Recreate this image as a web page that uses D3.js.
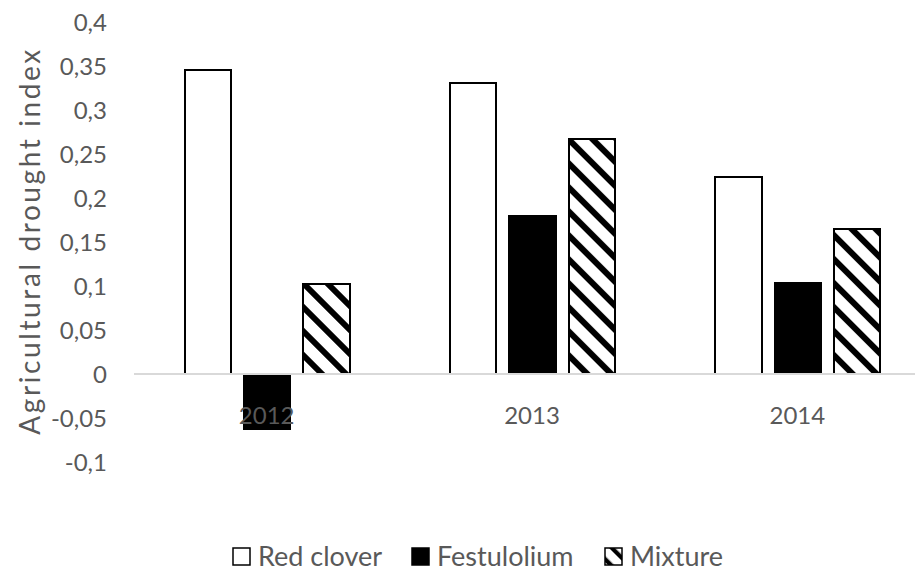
<!DOCTYPE html>
<html>
<head>
<meta charset="utf-8">
<script src="https://cdn.jsdelivr.net/npm/d3@7"></script>
<style>
  html, body { margin: 0; padding: 0; background: #fff; }
  svg { display: block; }
  text { font-family: Lato, "Open Sans", sans-serif; fill: #595959; }
</style>
</head>
<body>
<svg id="chart" width="915" height="572"></svg>
<script>
// Agricultural drought index by year and sward type
const years = ["2012", "2013", "2014"];
const seriesNames = ["Red clover", "Festulolium", "Mixture"];
const redClover = [0.346, 0.331, 0.224];
const festulolium = [-0.062, 0.179, 0.103];
const mixture = [0.1025, 0.2665, 0.1645];
const yTicks = [-0.1, -0.05, 0, 0.05, 0.1, 0.15, 0.2, 0.25, 0.3, 0.35, 0.4];

const seriesValues = [redClover, festulolium, mixture];

const svg = d3.select("#chart");
const W = 915, H = 572;
const margin = { left: 134, right: -15, top: 22, bottom: 110 };

// diagonal hatch for the mixture series
const defs = svg.append("defs");
const pat = defs.append("pattern")
  .attr("id", "hatch")
  .attr("patternUnits", "userSpaceOnUse")
  .attr("width", 24 / Math.SQRT2)
  .attr("height", 24 / Math.SQRT2)
  .attr("patternTransform", "rotate(-45)");
pat.append("rect")
  .attr("width", 24 / Math.SQRT2).attr("height", 24 / Math.SQRT2).attr("fill", "#fff");
pat.append("rect")
  .attr("width", 8.5 / Math.SQRT2).attr("height", 24 / Math.SQRT2).attr("fill", "#000");

// smaller hatch for the legend swatch
const patS = defs.append("pattern")
  .attr("id", "hatchSmall")
  .attr("patternUnits", "userSpaceOnUse")
  .attr("width", 18 / Math.SQRT2)
  .attr("height", 18 / Math.SQRT2)
  .attr("patternTransform", "translate(606,548) rotate(-45)");
patS.append("rect")
  .attr("width", 18 / Math.SQRT2).attr("height", 18 / Math.SQRT2).attr("fill", "#fff");
patS.append("rect")
  .attr("width", 6 / Math.SQRT2).attr("height", 18 / Math.SQRT2).attr("fill", "#000");

const styles = [
  { fill: "#fff", stroke: "#000" },
  { fill: "#000", stroke: "#000" },
  { fill: "url(#hatch)", stroke: "#000" }
];

const x0 = d3.scaleBand()
  .domain(years)
  .range([margin.left, W - margin.right])
  .paddingInner(0.375)
  .paddingOuter(0.1875);

const x1 = d3.scaleBand()
  .domain(seriesNames)
  .range([0, x0.bandwidth()])
  .paddingInner(0.2);

const y = d3.scaleLinear()
  .domain([-0.1, 0.4])
  .range([H - margin.bottom, margin.top]);

// decimal comma, plain hyphen for negatives
const fmt = v => (Math.abs(v) < 1e-9 ? "0" : String(+v.toFixed(2)).replace(".", ","));

// y tick labels (no tick marks or axis line)
const yAxis = svg.append("g")
  .attr("transform", `translate(${margin.left - 27},0)`)
  .call(d3.axisLeft(y).tickValues(yTicks).tickFormat(fmt).tickSize(0).tickPadding(0));
yAxis.select(".domain").remove();
yAxis.selectAll("text")
  .style("font-size", "24px")
  .attr("fill", "#595959")
  .attr("dy", "0.35em");

// bars
const groups = svg.append("g").selectAll("g")
  .data(years)
  .join("g")
  .attr("transform", d => `translate(${x0(d)},0)`);

groups.selectAll("rect")
  .data((d, i) => seriesNames.map((s, k) => ({ s, k, v: seriesValues[k][i] })))
  .join("rect")
  .attr("x", d => x1(d.s) + 1)
  .attr("width", x1.bandwidth() - 1)
  .attr("y", d => y(Math.max(0, d.v)))
  .attr("height", d => Math.abs(y(d.v) - y(0)))
  .attr("fill", d => styles[d.k].fill)
  .attr("stroke", d => styles[d.k].stroke)
  .attr("stroke-width", 2)
  .attr("shape-rendering", "crispEdges");

// zero line
svg.append("line")
  .attr("x1", margin.left).attr("x2", W)
  .attr("y1", y(0)).attr("y2", y(0))
  .attr("stroke", "#d9d9d9")
  .attr("stroke-width", 2);

// category labels
const xAxis = svg.append("g")
  .attr("transform", `translate(0,${y(0) + 42})`)
  .call(d3.axisBottom(x0).tickSize(0).tickPadding(0));
xAxis.select(".domain").remove();
xAxis.selectAll("text")
  .style("font-size", "24px")
  .attr("fill", "#595959")
  .attr("dy", "0.35em")
  .attr("y", 0);

// y axis title
svg.append("text")
  .attr("transform", `translate(40,241) rotate(-90)`)
  .attr("text-anchor", "middle")
  .style("font-size", "28px")
  .style("letter-spacing", "2.6px")
  .text("Agricultural drought index");

// legend
const legendX = [233, 412, 605];
const legend = svg.append("g").selectAll("g")
  .data(seriesNames)
  .join("g")
  .attr("transform", (d, i) => `translate(${legendX[i]},548)`);
legend.append("rect")
  .attr("width", 17).attr("height", 17)
  .attr("fill", (d, i) => i === 2 ? "url(#hatchSmall)" : styles[i].fill)
  .attr("stroke", "#000").attr("stroke-width", 1.5);
legend.append("text")
  .attr("x", 25).attr("y", 9).attr("dy", "0.35em")
  .style("font-size", "27px")
  .text(d => d);
</script>
</body>
</html>
